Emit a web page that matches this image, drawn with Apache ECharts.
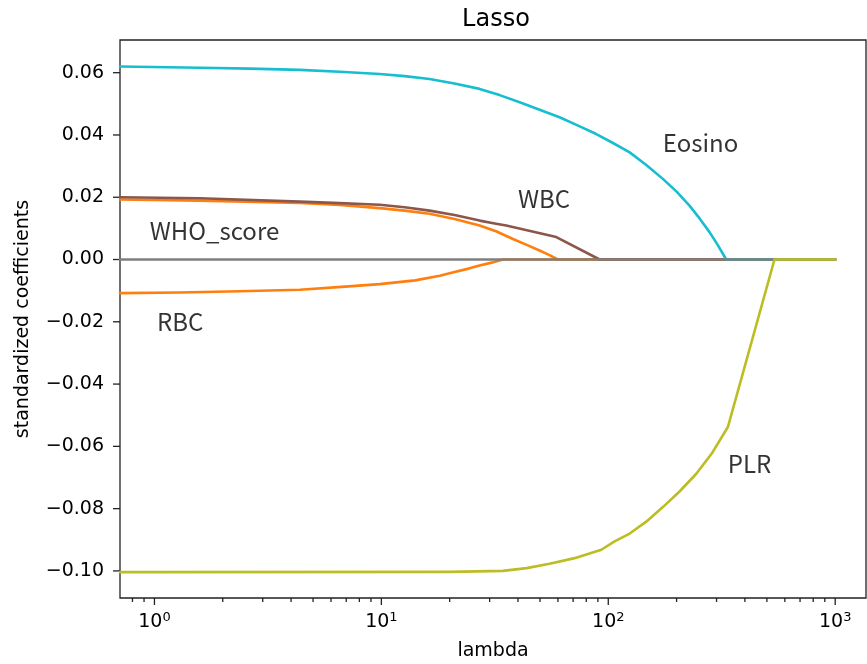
<!DOCTYPE html>
<html>
<head>
<meta charset="utf-8">
<title>Lasso</title>
<script src="https://cdn.jsdelivr.net/npm/echarts@6/dist/echarts.min.js"></script>
<style>
  html, body { margin: 0; padding: 0; background: #fff; }
  #chart { width: 867px; height: 664px; }
</style>
</head>
<body>
<div id="chart"></div>
<script>
// lasso path
const whoLambda = [0.705, 1.583, 4.37, 6.55, 9.83, 12.66, 16.3, 21.0, 27.1, 32.2, 38.0, 43.7, 49.8, 55.1, 60.0, 1000]
const whoCoef = [0.0193, 0.0189, 0.0182, 0.0175, 0.0165, 0.0157, 0.0147, 0.0130, 0.0109, 0.0090, 0.0066, 0.0047, 0.0029, 0.0014, 0, 0]

const rbcLambda = [0.705, 1.29, 2.38, 4.37, 6.93, 9.83, 14.1, 18.1, 21.0, 24.0, 27.1, 30.6, 34.3, 1000]
const rbcCoef = [-0.0108, -0.0106, -0.0102, -0.0097, -0.0087, -0.0079, -0.0067, -0.0052, -0.0040, -0.0030, -0.0019, -0.0010, 0, 0]

const wbcLambda = [0.705, 1.583, 4.37, 6.55, 9.83, 12.66, 16.3, 21.0, 27.1, 31.6, 35.5, 59.0, 91.6, 1000]
const wbcCoef = [0.0200, 0.0197, 0.0186, 0.0181, 0.0176, 0.0168, 0.0157, 0.0143, 0.0125, 0.0116, 0.0109, 0.0072, 0, 0]

const eosLambda = [0.705, 1.583, 2.63, 4.37, 6.55, 9.83, 12.66, 16.3, 21.0, 27.1, 33.2, 40.7, 49.8, 61.0,
  73.2, 88.5, 104.4, 124.3, 147.5, 174, 200, 228, 252.5, 279.4, 303, 331, 1000]
const eosCoef = [0.0620, 0.0616, 0.0613, 0.0609, 0.0603, 0.0596, 0.0589, 0.0580, 0.0565, 0.0548, 0.0528, 0.0505, 0.0481, 0.0457,
  0.0431, 0.0403, 0.0375, 0.0344, 0.0303, 0.0259, 0.0218, 0.0173, 0.0132, 0.0088, 0.0048, 0, 0]

const plrLambda = [0.705, 20.0, 34.3, 43.7, 55.1, 71.0, 93.2, 106.6, 124.3, 147.5, 174, 206.1, 244.2, 285.2, 336.5, 540.1, 1000]
const plrCoef = [-0.1004, -0.1003, -0.1000, -0.0991, -0.0977, -0.0959, -0.0932, -0.0905, -0.0880, -0.0841, -0.0795, -0.0745, -0.0688, -0.0624, -0.0538, 0, 0]

const zeroLambda = [0.705, 1000]
const zeroCoef = [0, 0]

// text labels on the plot
const labelNames = ['WHO_score', 'RBC', 'WBC', 'Eosino', 'PLR']
const labelLambda = [0.953, 1.027, 40.0, 174, 336.5]
const labelCoef = [0.0093, -0.0200, 0.0196, 0.0376, -0.0657]

// ticks
const xMajorTicks = [1, 10, 100, 1000]
const yMajorTicks = [-0.10, -0.08, -0.06, -0.04, -0.02, 0.00, 0.02, 0.04, 0.06]

const xMin = 0.705, xMax = 1367
const yMin = -0.1087, yMax = 0.0705

const zip = (a, b) => a.map((v, i) => [v, b[i]])

const xMinorTicks = []
for (let d = -1; d <= 3; d++) {
  for (let m = 2; m <= 9; m++) {
    const v = m * Math.pow(10, d)
    if (v > xMin && v < xMax) xMinorTicks.push(v)
  }
}

const tickData = []
xMajorTicks.forEach(v => tickData.push([v, yMin, 0]))
xMinorTicks.forEach(v => tickData.push([v, yMin, 1]))
yMajorTicks.forEach(v => tickData.push([xMin, v, 2]))

const font = 'DejaVu Sans'
const chart = echarts.init(document.getElementById('chart'))

function lineSeries(name, data, color) {
  return {
    name: name,
    type: 'line',
    data: data,
    showSymbol: false,
    symbol: 'none',
    lineStyle: {color: color, width: 2.6, join: 'round', cap: 'round'},
    itemStyle: {color: color},
    clip: true
  }
}

const option = {
  animation: false,
  backgroundColor: '#fff',
  title: {
    text: 'Lasso',
    left: 491,
    top: 3,
    textAlign: 'center',
    textStyle: {fontFamily: font, fontSize: 24, fontWeight: 'normal', color: '#000'}
  },
  grid: {
    left: 120,
    right: 1,
    top: 40,
    bottom: 66,
    show: true,
    borderColor: '#222',
    borderWidth: 1.3,
    containLabel: false,
    outerBoundsMode: 'none'
  },
  xAxis: {
    type: 'log',
    min: xMin,
    max: xMax,
    name: 'lambda',
    nameLocation: 'middle',
    nameGap: 44,
    nameTextStyle: {fontFamily: font, fontSize: 19, color: '#000'},
    axisLine: {show: false},
    axisTick: {show: false},
    splitLine: {show: false},
    axisLabel: {
      margin: 13,
      showMinLabel: false,
      showMaxLabel: false,
      formatter(v) {
        const e = Math.log10(v)
        if (Math.abs(e - Math.round(e)) > 1e-6) return ''
        return '{a|10}{b|' + Math.round(e) + '}'
      },
      rich: {
        a: {fontFamily: font, fontSize: 19, color: '#000'},
        b: {fontFamily: font, fontSize: 13, color: '#000', padding: [0, 0, 10, 0]}
      }
    }
  },
  yAxis: {
    type: 'value',
    min: yMin,
    max: yMax,
    splitNumber: 9,
    name: 'standardized coefficients',
    nameLocation: 'middle',
    nameGap: 87,
    nameTextStyle: {fontFamily: font, fontSize: 19, color: '#000'},
    axisLine: {show: false},
    axisTick: {show: false},
    splitLine: {show: false},
    axisLabel: {
      margin: 16,
      showMinLabel: false,
      showMaxLabel: false,
      fontFamily: font,
      fontSize: 19,
      color: '#000',
      formatter(v) {
        const r = Math.round(v * 100) / 100
        if (Math.abs(v - r) > 1e-6) return ''
        return (r < 0 ? '\u2212' : '') + Math.abs(r).toFixed(2)
      }
    }
  },
  series: [
    lineSeries('WHO_score', zip(whoLambda, whoCoef), '#ff7f0e'),
    lineSeries('RBC', zip(rbcLambda, rbcCoef), '#ff7f0e'),
    lineSeries('WBC', zip(wbcLambda, wbcCoef), '#8c564b'),
    lineSeries('Eosino', zip(eosLambda, eosCoef), '#17becf'),
    lineSeries('zero', zip(zeroLambda, zeroCoef), '#7f7f7f'),
    lineSeries('PLR', zip(plrLambda, plrCoef), '#bcbd22'),
    {
      name: 'labels',
      type: 'scatter',
      symbolSize: 0,
      silent: true,
      data: labelNames.map((n, i) => ({name: n, value: [labelLambda[i], labelCoef[i]]})),
      label: {
        show: true,
        position: 'right',
        distance: 0,
        formatter: p => p.name,
        fontFamily: 'Noto Sans CJK JP',
        fontSize: 24,
        color: '#000'
      }
    },
    {
      // matplotlib style ticks, placed through the axis scales
      name: 'ticks',
      type: 'custom',
      silent: true,
      clip: false,
      data: tickData,
      renderItem(params, api) {
        const p = api.coord([api.value(0), api.value(1)])
        const kind = api.value(2)
        let shape
        if (kind === 2) {
          shape = {x1: p[0] - 7, y1: p[1], x2: p[0], y2: p[1]}
        } else {
          shape = {x1: p[0], y1: p[1], x2: p[0], y2: p[1] + (kind === 0 ? 7 : 4)}
        }
        return {type: 'line', shape: shape, style: {stroke: '#222', lineWidth: 1.3}}
      }
    }
  ]
}

chart.setOption(option)
</script>
</body>
</html>
